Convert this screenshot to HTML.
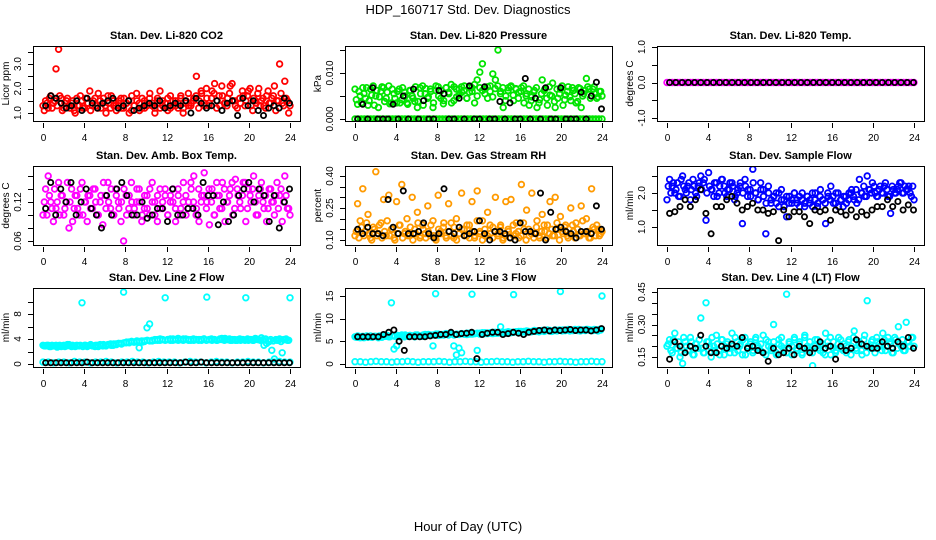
<!DOCTYPE html>
<html><head><meta charset="utf-8">
<style>
html,body{margin:0;padding:0;background:#fff;}
svg{display:block;font-family:"Liberation Sans",Arial,sans-serif;}
</style></head>
<body>
<svg id="chart" width="936" height="540" viewBox="0 0 936 540" xmlns="http://www.w3.org/2000/svg">
<text x="468" y="14" text-anchor="middle" font-size="13">HDP_160717  Std. Dev. Diagnostics</text>
<text x="468" y="531" text-anchor="middle" font-size="13">Hour of Day (UTC)</text>
</svg>
<script>
// ---- data arrays (values evenly spaced over 0..24 h) ----
const xTicks = [0,4,8,12,16,20,24];
const co2Color = [1.3,1.5,1.2,1.7,1.4,2.8,3.6,1.6,1.2,1.5,1.3,1.4,1.1,1.6,1.3,1.5,1.2,1.4,1.9,1.3,1.6,1.2,1.5,1.4,1.3,1.7,1.2,1.5,1.4,1.3,1.6,1.2,1.4,1.5,1.1,1.3,1.8,1.4,1.2,1.5,1.3,1.6,1.4,1.2,1.5,1.9,1.3,1.4,1.6,1.2,1.5,1.3,1.4,1.7,1.2,1.5,1.3,1.4,1.6,2.5,1.5,1.8,1.3,1.6,1.4,1.9,2.2,1.5,1.3,1.7,1.4,1.6,2.1,1.5,1.3,3.9,1.4,1.7,1.5,1.9,1.3,1.6,1.4,2.0,1.5,1.3,1.7,1.4,1.6,2.1,1.5,3.0,1.4,2.3,1.5,1.3];
const co2Color2 = [1.1,1.4,1.6,1.2,1.5,1.3,1.7,1.1,1.4,1.6,1.2,1.5,1.0,1.3,1.7,1.2,1.6,1.4,1.1,1.5,1.3,1.8,1.2,1.6,1.0,1.4,1.7,1.3,1.1,1.5,1.2,1.6,1.4,1.0,1.7,1.3,1.5,1.1,1.6,1.2,1.4,1.8,1.3,1.0,1.6,1.2,1.5,1.4,1.1,1.7,1.3,1.5,1.2,1.6,1.0,1.4,1.8,1.3,1.5,1.7,1.2,1.9,1.4,2.0,1.3,1.6,1.8,1.2,1.7,2.1,1.4,1.3,1.8,2.2,1.5,1.2,1.6,1.9,1.3,1.7,2.0,1.1,1.5,1.8,1.3,1.6,1.2,1.9,1.4,1.7,1.1,1.5,1.8,1.3,1.6,1.0];
const co2Black = [1.3,1.7,1.6,1.4,1.2,1.3,1.5,1.1,1.6,1.4,1.2,1.4,1.5,1.6,1.2,1.3,1.5,1.1,1.2,1.3,1.4,1.3,1.5,1.2,1.3,1.4,1.3,1.5,1.0,1.6,1.4,1.2,1.3,1.5,1.1,1.4,1.5,0.9,1.6,1.3,1.5,1.1,0.9,1.2,1.3,1.2,1.6,1.4];
const pressColor = [0.0065,0.0032,0.005,0.0068,0.0045,0.003,0.0065,0.0072,0.005,0.0025,0.006,0.0068,0.0045,0.0072,0.0035,0.0055,0.0035,0.0065,0.0042,0.0058,0.0035,0.0062,0.0050,0.0038,0.0025,0.0068,0.0072,0.0055,0.0045,0.0065,0.0025,0.0062,0.0070,0.0045,0.0033,0.0068,0.0058,0.0075,0.0040,0.0065,0.0052,0.0070,0.0062,0.0045,0.0058,0.0068,0.0035,0.0085,0.0102,0.0120,0.0065,0.0045,0.0072,0.0098,0.0085,0.0150,0.0060,0.0025,0.0050,0.0068,0.0072,0.0040,0.0065,0.0058,0.0068,0.0035,0.0055,0.0030,0.0048,0.0062,0.0025,0.0042,0.0085,0.0065,0.0030,0.0052,0.0078,0.0025,0.0045,0.0065,0.0030,0.0052,0.0070,0.0040,0.0062,0.0035,0.0068,0.0025,0.0055,0.0088,0.0065,0.0050,0.0070,0.0045,0.0060,0.0050];
const pressColor2 = [0.0042,0.0060,0.0035,0.0055,0.0068,0.0040,0.0052,0.0030,0.0062,0.0048,0.0070,0.0038,0.0058,0.0033,0.0065,0.0045,0.0060,0.0035,0.0068,0.0050,0.0032,0.0062,0.0045,0.0070,0.0038,0.0055,0.0030,0.0066,0.0048,0.0060,0.0035,0.0072,0.0050,0.0062,0.0040,0.0068,0.0055,0.0035,0.0070,0.0048,0.0065,0.0058,0.0072,0.0045,0.0068,0.0060,0.0075,0.0050,0.0068,0.0062,0.0055,0.0070,0.0060,0.0048,0.0066,0.0072,0.0055,0.0068,0.0040,0.0062,0.0070,0.0052,0.0066,0.0045,0.0060,0.0072,0.0050,0.0065,0.0040,0.0058,0.0068,0.0035,0.0055,0.0062,0.0045,0.0070,0.0050,0.0038,0.0065,0.0055,0.0072,0.0042,0.0060,0.0048,0.0068,0.0055,0.0038,0.0066,0.0050,0.0062,0.0070,0.0045,0.0065,0.0055,0.0048,0.0060];
const pressColorLow = [0,0,0,0,0,0,0,0,0,0,0,0,0,0,0,0,0,0,0,0,0,0,0,0,0,0,0,0,0,0,0,0,0,0,0,0,0,0,0,0,0,0,0,0,0,0,0,0,0,0,0,0,0,0,0,0,0,0,0,0,0,0,0,0,0,0,0,0,0,0,0,0,0,0,0,0,0,0,0,0];
const pressBlack = [0,0.0032,0,0.0068,0,0,0,0.0032,0,0.0050,0,0.0065,0,0.0040,0,0,0.0062,0.0055,0,0,0.0045,0,0.0072,0,0,0.0070,0,0,0.0038,0,0.0035,0,0,0.0088,0,0.0045,0,0.0068,0,0,0.0068,0,0,0,0.0058,0,0.0050,0.0080,0.0022];
const tempColor = [0,0,0,0,0,0,0,0,0,0,0,0,0,0,0,0,0,0,0,0,0,0,0,0,0,0,0,0,0,0,0,0,0,0,0,0,0,0,0,0,0,0,0,0,0,0,0,0,0,0,0,0,0,0,0,0,0,0,0,0,0,0,0,0,0,0,0,0,0,0,0,0,0,0,0,0,0,0,0,0,0,0,0,0,0,0,0,0,0,0,0,0,0,0,0,0];
const tempBlack = [0,0,0,0,0,0,0,0,0,0,0,0,0,0,0,0,0,0,0,0,0,0,0,0,0,0,0,0,0,0,0,0,0,0,0,0,0,0,0,0];
const ambColor = [0.10,0.14,0.16,0.12,0.09,0.11,0.15,0.13,0.10,0.12,0.08,0.14,0.11,0.13,0.10,0.15,0.12,0.09,0.13,0.11,0.14,0.10,0.12,0.085,0.13,0.15,0.11,0.10,0.14,0.12,0.09,0.06,0.13,0.11,0.15,0.10,0.12,0.14,0.09,0.11,0.13,0.10,0.15,0.12,0.09,0.14,0.11,0.13,0.10,0.12,0.14,0.09,0.13,0.11,0.15,0.10,0.12,0.14,0.16,0.11,0.09,0.13,0.165,0.12,0.085,0.14,0.10,0.13,0.11,0.15,0.09,0.12,0.14,0.10,0.155,0.13,0.11,0.15,0.09,0.14,0.12,0.16,0.10,0.13,0.15,0.11,0.09,0.14,0.12,0.10,0.15,0.13,0.09,0.16,0.11,0.10];
const ambColor2 = [0.12,0.10,0.13,0.11,0.14,0.12,0.10,0.13,0.11,0.15,0.12,0.09,0.13,0.11,0.14,0.10,0.12,0.13,0.11,0.14,0.12,0.10,0.13,0.15,0.11,0.12,0.14,0.10,0.13,0.11,0.12,0.14,0.10,0.13,0.12,0.11,0.14,0.12,0.10,0.13,0.11,0.14,0.12,0.10,0.13,0.11,0.12,0.14,0.10,0.13,0.12,0.11,0.14,0.10,0.12,0.13,0.11,0.15,0.12,0.10,0.14,0.12,0.13,0.11,0.14,0.12,0.10,0.15,0.13,0.11,0.14,0.12,0.13,0.15,0.11,0.14,0.12,0.13,0.15,0.11,0.13,0.14,0.12,0.10,0.14,0.12,0.13,0.11,0.14,0.12,0.13,0.11,0.14,0.12,0.13,0.11];
const ambBlack = [0.11,0.15,0.10,0.14,0.12,0.15,0.10,0.12,0.14,0.11,0.10,0.08,0.13,0.10,0.14,0.15,0.13,0.10,0.10,0.12,0.095,0.10,0.11,0.11,0.09,0.14,0.10,0.10,0.11,0.11,0.10,0.15,0.13,0.13,0.085,0.12,0.09,0.10,0.13,0.14,0.15,0.12,0.14,0.13,0.09,0.13,0.08,0.12,0.14];
const rhColor = [0.12,0.27,0.19,0.34,0.14,0.22,0.11,0.16,0.42,0.13,0.18,0.29,0.12,0.31,0.15,0.11,0.28,0.17,0.36,0.13,0.20,0.12,0.30,0.15,0.23,0.11,0.17,0.13,0.26,0.12,0.19,0.11,0.31,0.14,0.16,0.12,0.27,0.18,0.11,0.20,0.13,0.32,0.15,0.12,0.17,0.28,0.11,0.33,0.14,0.19,0.12,0.23,0.13,0.16,0.30,0.12,0.17,0.11,0.28,0.14,0.29,0.12,0.18,0.11,0.36,0.15,0.24,0.12,0.32,0.13,0.19,0.11,0.22,0.14,0.17,0.28,0.12,0.30,0.15,0.21,0.13,0.17,0.11,0.25,0.14,0.18,0.12,0.26,0.13,0.20,0.11,0.34,0.15,0.17,0.12,0.14];
const rhColor2 = [0.14,0.11,0.16,0.12,0.18,0.13,0.10,0.15,0.12,0.17,0.11,0.14,0.19,0.12,0.15,0.10,0.13,0.17,0.11,0.14,0.12,0.16,0.10,0.13,0.18,0.12,0.15,0.11,0.14,0.17,0.12,0.10,0.15,0.13,0.18,0.11,0.14,0.12,0.16,0.10,0.13,0.15,0.12,0.17,0.11,0.14,0.12,0.19,0.13,0.10,0.15,0.12,0.17,0.11,0.14,0.13,0.16,0.10,0.12,0.15,0.11,0.17,0.13,0.14,0.12,0.18,0.10,0.15,0.13,0.11,0.16,0.12,0.14,0.17,0.11,0.13,0.15,0.12,0.18,0.10,0.14,0.16,0.12,0.13,0.17,0.11,0.15,0.12,0.19,0.13,0.14,0.11,0.16,0.12,0.15,0.13];
const rhBlack = [0.15,0.13,0.16,0.13,0.13,0.12,0.29,0.16,0.13,0.33,0.13,0.13,0.14,0.18,0.13,0.11,0.13,0.34,0.14,0.13,0.16,0.12,0.13,0.14,0.19,0.13,0.10,0.14,0.14,0.13,0.11,0.10,0.18,0.14,0.14,0.13,0.32,0.10,0.23,0.15,0.16,0.14,0.13,0.11,0.14,0.14,0.13,0.26,0.15];
const flowColor = [1.8,2.4,2.2,2.0,2.3,1.9,2.5,2.1,2.2,1.8,2.4,2.0,2.2,2.5,2.3,1.2,2.6,2.1,1.9,2.3,2.0,2.4,2.2,1.9,2.1,2.3,1.8,2.0,2.2,1.1,2.4,1.9,2.1,2.7,2.0,1.8,2.3,2.1,0.8,2.2,1.7,1.9,2.0,1.6,2.1,1.8,1.3,1.9,1.7,2.0,1.8,1.6,2.0,1.7,1.9,1.8,1.6,2.0,1.7,2.1,1.8,1.1,1.9,2.2,1.7,2.0,1.6,1.8,1.9,1.7,2.0,2.1,1.8,1.7,2.4,2.0,1.9,2.5,2.1,2.3,2.0,1.9,2.2,2.0,2.3,1.9,1.4,2.1,2.0,2.2,2.3,2.0,2.1,2.2,1.9,1.8];
const flowColor2 = [2.2,2.0,2.3,2.1,1.9,2.4,2.2,2.0,2.3,2.1,2.2,1.9,2.3,2.1,2.4,2.0,2.2,2.1,2.3,1.9,2.2,2.4,2.0,2.1,2.3,2.2,1.9,2.1,2.3,2.0,2.2,2.1,1.9,2.3,2.0,1.8,2.1,1.9,1.7,2.0,1.8,1.9,1.7,2.0,1.8,1.6,1.9,1.7,1.8,2.0,1.7,1.9,1.8,1.6,1.9,1.7,2.0,1.8,1.6,1.9,1.8,1.7,2.0,1.8,1.9,1.7,2.0,1.8,1.6,1.9,1.8,2.0,1.9,2.1,1.8,2.0,2.2,1.9,2.1,2.0,2.2,1.9,2.1,2.0,2.2,2.1,1.9,2.2,2.0,2.1,2.3,2.0,2.2,2.1,2.0,2.2];
const flowBlack = [1.4,1.45,1.6,1.8,1.6,1.8,2.1,1.4,0.8,1.6,1.6,1.8,1.9,1.7,1.5,1.6,1.7,1.5,1.5,1.4,1.45,0.6,1.5,1.3,1.45,1.45,1.3,1.1,1.5,1.45,1.5,1.2,1.5,1.45,1.35,1.5,1.3,1.45,1.35,1.5,1.6,1.6,1.8,1.6,1.75,1.5,1.65,1.5];
const line2Color = [3.0,2.9,3.0,2.8,2.9,3.0,2.9,2.8,3.0,2.9,3.1,2.8,2.9,3.0,2.9,9.8,3.0,2.8,3.0,2.9,2.8,3.0,3.1,2.9,3.0,3.1,3.2,3.0,3.2,3.3,3.3,11.5,3.4,3.5,3.6,3.5,3.6,2.6,3.7,3.6,5.8,6.4,3.7,3.8,3.9,3.8,3.9,10.6,3.9,3.8,4.0,3.9,3.8,3.9,4.0,3.9,3.8,3.9,3.8,3.9,3.9,3.8,4.0,10.7,3.9,3.8,3.9,3.8,4.0,3.9,4.1,3.9,3.8,3.9,3.8,3.9,3.8,3.9,10.6,3.8,3.9,3.8,4.0,3.9,4.2,3.0,3.3,3.6,2.2,0.8,3.8,4.0,1.8,3.9,3.8,10.6];
const line2Color2 = [2.9,3.0,2.8,3.0,2.9,2.7,3.0,2.9,2.8,3.1,2.9,3.0,2.8,2.9,3.0,2.8,3.0,2.9,3.1,2.9,3.0,2.8,3.0,3.1,2.9,3.1,3.0,3.2,3.1,3.3,3.2,3.4,3.5,3.4,3.6,3.5,3.7,3.6,3.5,3.7,3.8,3.7,3.8,3.9,3.8,4.0,3.9,3.8,3.9,4.0,3.8,3.9,4.1,3.9,3.8,4.0,3.9,3.8,4.0,3.9,3.8,3.9,4.0,3.8,3.9,4.0,3.9,3.8,3.9,4.1,3.8,3.9,4.0,3.8,3.9,3.8,4.0,3.9,3.8,4.0,3.9,3.8,4.1,3.9,3.8,3.9,4.0,3.8,3.9,3.7,3.9,3.8,3.6,3.9,4.0,3.8];
const line2ColorLow = [0.3,0.3,0.2,0.3,0.3,0.2,0.4,0.3,0.3,0.2,0.3,0.3,0.4,0.3,0.2,0.3,0.3,0.4,0.3,0.3,0.2,0.3,0.4,0.3,0.3,0.3,0.2,0.3,0.4,0.3,0.3,0.2,0.3,0.4,0.3,0.3,0.2,0.3,0.3,0.4,0.3,0.3,0.2,0.3,0.3,0.4,0.3,0.3];
const line2Black = [0.2,0.2,0.2,0.2,0.2,0.2,0.2,0.2,0.3,0.2,0.2,0.2,0.2,0.2,0.2,0.2,0.2,0.2,0.2,0.2,0.2,0.2,0.2,0.2,0.2,0.2,0.2,0.3,0.2,0.2,0.3,0.2,0.2,0.2,0.2,0.2,0.2,0.2,0.2,0.2,0.2,0.2,0.2,0.2,0.2,0.2,0.2,0.2];
const line3Color = [6.0,6.2,5.8,6.1,6.0,5.9,6.2,6.0,6.1,5.8,6.0,6.3,6.1,6.0,13.5,3.3,4.0,6.2,6.4,6.0,6.1,6.3,6.2,6.0,6.4,6.2,6.1,6.5,6.3,6.4,4.0,15.5,6.6,6.4,6.5,6.7,6.4,6.6,4.0,2.0,3.5,2.5,6.6,6.8,6.6,15.4,6.7,3.0,6.8,6.6,6.9,6.7,6.8,7.0,6.8,6.9,8.2,6.9,7.0,7.1,7.0,15.3,7.1,7.2,7.0,7.2,7.3,7.1,7.2,7.4,7.3,7.2,7.4,7.3,7.5,7.4,7.3,7.5,7.4,16.0,7.5,7.4,7.6,7.5,7.4,7.5,7.6,7.4,7.5,7.6,7.5,7.4,7.6,7.5,7.6,15.0];
const line3Color2 = [5.9,6.1,6.0,5.8,6.2,6.0,5.9,6.1,6.0,6.2,5.9,6.1,6.3,6.0,6.2,6.1,6.3,6.0,6.2,6.4,6.1,6.3,6.2,6.4,6.3,6.1,6.4,6.2,6.5,6.3,6.4,6.6,6.3,6.5,6.4,6.6,6.5,6.7,6.4,6.6,6.5,6.7,6.6,6.5,6.8,6.6,6.7,6.8,6.6,6.9,6.7,6.8,6.9,6.7,7.0,6.8,6.9,7.0,6.8,7.1,6.9,7.0,7.1,7.0,7.2,7.1,7.0,7.2,7.1,7.3,7.2,7.1,7.3,7.2,7.4,7.3,7.2,7.4,7.3,7.5,7.3,7.4,7.5,7.3,7.4,7.6,7.4,7.3,7.5,7.4,7.6,7.5,7.4,7.5,7.3,7.5];
const line3ColorLow = [0.5,0.5,0.4,0.5,0.6,0.5,0.5,0.4,0.5,0.5,0.6,0.5,0.4,0.5,0.5,0.5,0.6,0.5,0.4,0.5,0.5,0.6,0.5,0.5,0.4,0.5,0.5,0.6,0.5,0.5,0.4,0.5,0.5,0.6,0.5,0.5,0.4,0.5,0.5,0.6,0.5,0.5,0.4,0.5,0.5,0.6,0.5,0.5];
const line3Black = [6.0,6.0,6.0,6.0,6.0,6.5,7.0,7.5,5.0,3.0,6.0,6.0,6.0,6.0,6.2,6.3,6.5,6.5,7.0,6.5,6.7,6.8,7.0,1.2,6.5,6.8,7.0,7.0,6.5,6.7,7.0,6.8,6.5,7.0,7.2,7.4,7.5,7.3,7.5,7.4,7.5,7.6,7.4,7.5,7.5,7.3,7.5,7.8];
const line4Color = [0.20,0.23,0.17,0.26,0.19,0.15,0.12,0.22,0.18,0.24,0.16,0.21,0.19,0.33,0.17,0.40,0.22,0.15,0.20,0.25,0.18,0.23,0.16,0.21,0.19,0.26,0.17,0.22,0.20,0.16,0.24,0.19,0.21,0.17,0.23,0.20,0.18,0.25,0.16,0.22,0.19,0.30,0.17,0.23,0.20,0.18,0.44,0.21,0.16,0.24,0.19,0.22,0.17,0.25,0.20,0.18,0.11,0.23,0.19,0.21,0.17,0.26,0.20,0.16,0.22,0.18,0.24,0.19,0.21,0.17,0.23,0.20,0.27,0.18,0.22,0.16,0.25,0.41,0.19,0.23,0.17,0.22,0.20,0.26,0.18,0.24,0.21,0.17,0.23,0.29,0.20,0.18,0.31,0.22,0.24,0.20];
const line4Color2 = [0.21,0.18,0.23,0.19,0.22,0.17,0.24,0.20,0.18,0.22,0.16,0.21,0.23,0.19,0.17,0.22,0.20,0.24,0.18,0.21,0.16,0.23,0.19,0.22,0.17,0.20,0.24,0.18,0.21,0.23,0.16,0.20,0.22,0.18,0.24,0.19,0.21,0.17,0.23,0.20,0.18,0.22,0.16,0.21,0.24,0.19,0.17,0.22,0.20,0.23,0.18,0.21,0.16,0.24,0.19,0.22,0.17,0.20,0.23,0.18,0.21,0.16,0.22,0.24,0.19,0.17,0.21,0.23,0.18,0.20,0.22,0.16,0.24,0.19,0.21,0.18,0.23,0.17,0.20,0.22,0.19,0.24,0.21,0.18,0.23,0.20,0.22,0.17,0.24,0.19,0.21,0.23,0.18,0.22,0.20,0.24];
const line4Black = [0.14,0.22,0.20,0.17,0.20,0.19,0.25,0.20,0.17,0.17,0.20,0.19,0.21,0.20,0.24,0.19,0.20,0.18,0.17,0.13,0.19,0.16,0.17,0.19,0.16,0.20,0.19,0.17,0.19,0.22,0.19,0.20,0.14,0.20,0.18,0.19,0.23,0.21,0.20,0.19,0.19,0.22,0.20,0.19,0.22,0.20,0.24,0.19];

// ---- layout (pixels) ----
const cols = [{l:33,r:300,x0:43,x24:290},{l:345,r:612,x0:355,x24:602},{l:657,r:924,x0:667,x24:914}];
const rows = [{t:46,b:121},{t:166,b:245},{t:288,b:367}];

const panels = [
 {name:'co2',title:'Stan. Dev. Li-820 CO2',ylab:'Licor ppm',c:0,r:0,vA:1.0,pA:113,vB:3.0,pB:64,ticks:[1.0,1.5,2.0,2.5,3.0,3.5],labels:[1.0,2.0,3.0],fmt:1,color:'#ff0000',series:[co2Color,co2Color2],black:co2Black},
 {name:'pressure',title:'Stan. Dev. Li-820 Pressure',ylab:'kPa',c:1,r:0,vA:0,pA:119,vB:0.010,pB:73,ticks:[0,0.005,0.010,0.015],labels:[0,0.010],fmt:3,color:'#00e400',series:[pressColor,pressColor2,pressColorLow],black:pressBlack},
 {name:'temp',title:'Stan. Dev. Li-820 Temp.',ylab:'degrees C',c:2,r:0,vA:-1,pA:118,vB:1,pB:47,ticks:[-1.0,-0.5,0,0.5,1.0],labels:[-1.0,0.0,1.0],fmt:1,color:'#ff00ff',series:[tempColor],black:tempBlack},
 {name:'amb-box-temp',title:'Stan. Dev. Amb. Box Temp.',ylab:'degrees C',c:0,r:1,vA:0.06,pA:241,vB:0.12,pB:202,ticks:[0.06,0.08,0.10,0.12,0.14,0.16],labels:[0.06,0.12],fmt:2,color:'#ff00ff',series:[ambColor,ambColor2],black:ambBlack},
 {name:'gas-stream-rh',title:'Stan. Dev. Gas Stream RH',ylab:'percent',c:1,r:1,vA:0.10,pA:240,vB:0.40,pB:176,ticks:[0.10,0.15,0.20,0.25,0.30,0.35,0.40],labels:[0.10,0.25,0.40],fmt:2,color:'#ff9a00',series:[rhColor,rhColor2],black:rhBlack},
 {name:'sample-flow',title:'Stan. Dev. Sample Flow',ylab:'ml/min',c:2,r:1,vA:1.0,pA:227,vB:2.0,pB:193,ticks:[1.0,1.5,2.0,2.5],labels:[1.0,2.0],fmt:1,color:'#0000ff',series:[flowColor,flowColor2],black:flowBlack},
 {name:'line2-flow',title:'Stan. Dev. Line 2 Flow',ylab:'ml/min',c:0,r:2,vA:0,pA:364,vB:8,pB:314,ticks:[0,2,4,6,8,10],labels:[0,4,8],fmt:0,color:'#00ffff',series:[line2Color,line2Color2,line2ColorLow],black:line2Black},
 {name:'line3-flow',title:'Stan. Dev. Line 3 Flow',ylab:'ml/min',c:1,r:2,vA:0,pA:364,vB:15,pB:296,ticks:[0,5,10,15],labels:[0,5,10,15],fmt:0,color:'#00ffff',series:[line3Color,line3Color2,line3ColorLow],black:line3Black},
 {name:'line4-flow',title:'Stan. Dev. Line 4 (LT) Flow',ylab:'ml/min',c:2,r:2,vA:0.15,pA:357,vB:0.45,pB:292,ticks:[0.15,0.20,0.25,0.30,0.35,0.40,0.45],labels:[0.15,0.30,0.45],fmt:2,color:'#00ffff',series:[line4Color,line4Color2],black:line4Black}
];

const NS='http://www.w3.org/2000/svg';
const svg=document.getElementById('chart');
function mk(tag,attrs,parent){const e=document.createElementNS(NS,tag);for(const k in attrs)e.setAttribute(k,attrs[k]);parent.appendChild(e);return e;}

panels.forEach(p=>{
  const col=cols[p.c], row=rows[p.r];
  const g=mk('g',{},svg);
  
  
  const xs=h=>col.x0+(col.x24-col.x0)*h/24;
  const ys=v=>p.pA+(p.pB-p.pA)*(v-p.vA)/(p.vB-p.vA);
  const t=mk('text',{x:(col.l+col.r)/2,y:row.t-7,'text-anchor':'middle','font-size':'11','font-weight':'bold'},g);
  t.textContent=p.title;
  
  
  const cid='clip-'+p.name;
  const cp=mk('clipPath',{id:cid},g);
  mk('rect',{x:col.l,y:row.t,width:col.r-col.l,height:row.b-row.t},cp);
  const pts=mk('g',{'clip-path':'url(#'+cid+')',fill:'none','stroke-width':'1.8'},g);
  
  
  p.series.forEach((arr,si)=>{
    const off = si%2===1 ? 0.5 : 0;
    arr.forEach((v,i)=>{
      const h = off ? (i+0.5)*24/arr.length : (arr.length>1? i*24/(arr.length-1):0);
      const c=mk('circle',{cx:xs(h).toFixed(1),cy:ys(v).toFixed(1),r:'2.8',stroke:p.color},pts);
      
      
    });
  });
  p.black.forEach((v,i)=>{
    const h=0.25+i*23.7/(p.black.length-1);
    const c=mk('circle',{cx:xs(h).toFixed(1),cy:ys(v).toFixed(1),r:'2.6',stroke:'#000'},pts);
    
    
  });
  const box=mk('rect',{x:col.l+0.5,y:row.t+0.5,width:col.r-col.l,height:row.b-row.t,fill:'none',stroke:'#000','stroke-width':'1'},g);
  
  
  xTicks.forEach(h=>{
    const x=Math.round(xs(h))+0.5;
    mk('line',{x1:x,x2:x,y1:row.b+2,y2:row.b+7,stroke:'#000'},g);
    const l=mk('text',{x:x,y:row.b+20,'text-anchor':'middle','font-size':'10'},g);
    l.textContent=h;
    
    
  });
  p.ticks.forEach(v=>{
    const y=Math.round(ys(v))+0.5;
    mk('line',{x1:col.l-5,x2:col.l,y1:y,y2:y,stroke:'#000'},g);
  });
  p.labels.forEach(v=>{
    const y=ys(v); const x=col.l-12;
    const l=mk('text',{x:x,y:y,'text-anchor':'middle','font-size':'10',transform:'rotate(-90 '+x+' '+y+')'},g);
    l.textContent=v.toFixed(p.fmt);
    
    
  });
  const yl=col.l-24, ym=(row.t+row.b)/2;
  const yt=mk('text',{x:yl,y:ym,'text-anchor':'middle','font-size':'10',transform:'rotate(-90 '+yl+' '+ym+')'},g);
  yt.textContent=p.ylab;
  
  
});
</script>
</body></html>
